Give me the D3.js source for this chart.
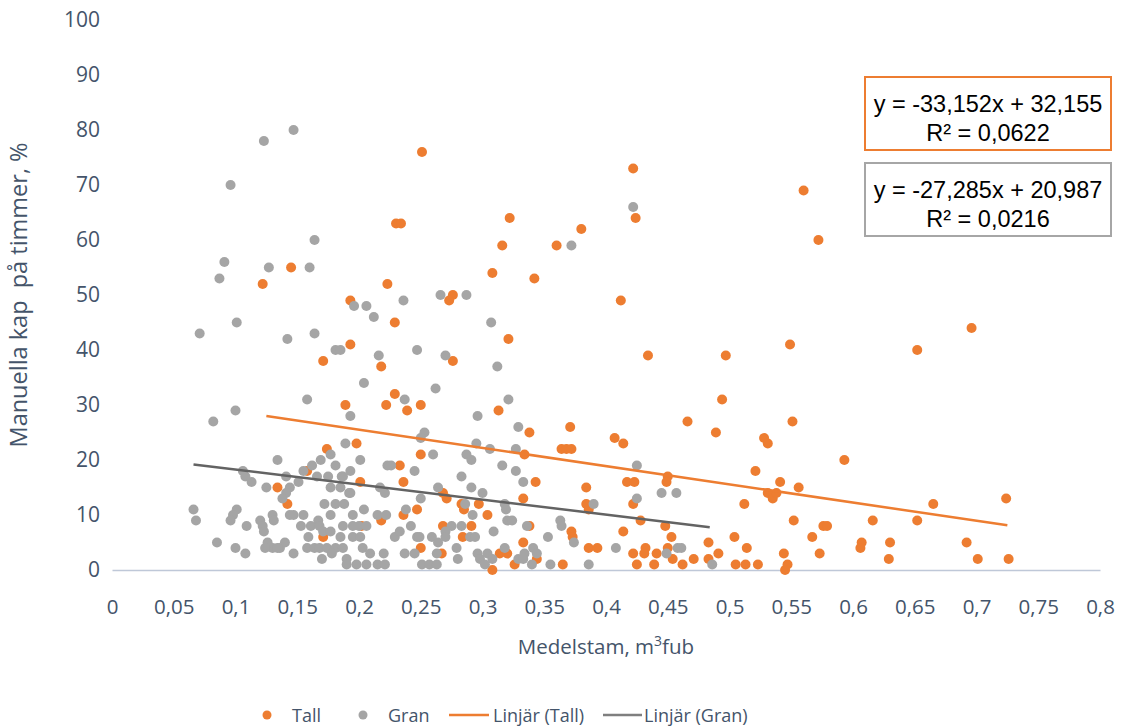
<!DOCTYPE html>
<html>
<head>
<meta charset="utf-8">
<script src="https://cdn.jsdelivr.net/npm/d3@7"></script>
<style>
  html, body { margin: 0; padding: 0; background: #fff; }
  svg text { font-family: "Open Sans", "DejaVu Sans", sans-serif; fill: #44546A; }
</style>
</head>
<body>
<svg id="chart" width="1121" height="728"></svg>
<script>
// Tall (pine): medelstam (m3fub) and share of manual bucking (%)
const tallX = [0.251,0.422,0.560,0.572,0.424,0.322,0.230,0.234,0.380,0.316,0.360,0.145,0.308,0.342,0.122,0.223,0.193,0.412,0.276,0.273,
  0.229,0.321,0.193,0.549,0.652,0.696,0.434,0.497,0.171,0.276,0.218,0.229,0.189,0.222,0.250,0.239,0.313,0.494,0.338,0.371,
  0.364,0.368,0.372,0.334,0.407,0.414,0.198,0.250,0.233,0.201,0.236,0.174,0.158,0.134,0.142,0.171,0.268,0.271,0.247,0.283,
  0.285,0.297,0.304,0.218,0.236,0.268,0.291,0.284,0.250,0.267,0.314,0.320,0.308,0.343,0.384,0.417,0.423,0.450,0.449,0.333,
  0.384,0.386,0.422,0.338,0.428,0.448,0.372,0.373,0.414,0.333,0.453,0.344,0.386,0.393,0.422,0.432,0.431,0.441,0.450,0.454,
  0.326,0.365,0.425,0.439,0.466,0.551,0.489,0.528,0.531,0.593,0.521,0.541,0.556,0.531,0.535,0.538,0.512,0.552,0.576,0.579,
  0.504,0.567,0.483,0.514,0.491,0.544,0.573,0.471,0.483,0.462,0.505,0.513,0.523,0.547,0.545,0.724,0.665,0.616,0.652,0.607,
  0.606,0.630,0.692,0.629,0.701,0.726,0.202];
const tallY = [76,73,69,60,64,64,63,63,62,59,59,55,54,53,52,52,49,49,50,49,
  45,42,41,41,40,44,39,39,38,38,37,32,30,30,30,29,29,31,25,26,
  22,22,22,21,24,23,23,21,19,16,16,22,18,15,12,6,14,13,11,12,
  11,12,10,9,10,8,8,6,4,3,3,3,0,16,15,16,16,17,16,13,
  12,11,12,8,9,8,7,6,7,5,6,2,4,4,3,4,3,3,4,2,
  1,1,1,1,27,27,25,24,23,20,18,16,15,14,13,14,12,9,8,8,
  6,6,5,4,3,3,3,2,2,1,1,1,1,1,0,13,12,9,9,5,
  4,5,5,2,2,2,8];

// Gran (spruce)
const granX = [0.147,0.123,0.096,0.422,0.164,0.372,0.091,0.127,0.160,0.087,0.101,0.071,0.142,0.164,0.181,0.196,0.206,0.236,0.266,0.287,
  0.212,0.307,0.185,0.216,0.247,0.270,0.312,0.204,0.262,0.158,0.100,0.082,0.189,0.177,0.169,0.134,0.181,0.162,0.155,0.106,
  0.108,0.166,0.175,0.186,0.141,0.113,0.151,0.125,0.144,0.177,0.185,0.141,0.192,0.138,0.172,0.181,0.188,0.066,0.101,0.098,
  0.096,0.130,0.131,0.144,0.147,0.155,0.177,0.068,0.120,0.109,0.122,0.123,0.153,0.161,0.167,0.168,0.187,0.159,0.171,0.177,
  0.185,0.085,0.126,0.130,0.136,0.140,0.100,0.108,0.124,0.134,0.158,0.164,0.168,0.174,0.181,0.187,0.147,0.170,0.178,0.190,
  0.237,0.193,0.296,0.321,0.253,0.250,0.260,0.295,0.287,0.291,0.306,0.201,0.316,0.223,0.226,0.193,0.245,0.187,0.283,0.217,
  0.221,0.264,0.193,0.291,0.300,0.250,0.286,0.204,0.238,0.195,0.215,0.222,0.292,0.320,0.195,0.200,0.206,0.242,0.275,0.283,
  0.195,0.201,0.229,0.233,0.247,0.249,0.259,0.270,0.270,0.290,0.294,0.309,0.203,0.209,0.220,0.237,0.245,0.264,0.263,0.279,
  0.296,0.304,0.308,0.190,0.198,0.206,0.215,0.221,0.251,0.257,0.263,0.280,0.298,0.302,0.329,0.327,0.327,0.333,0.318,0.319,
  0.324,0.336,0.363,0.364,0.353,0.374,0.425,0.425,0.390,0.445,0.457,0.318,0.334,0.341,0.344,0.329,0.333,0.340,0.355,0.386,
  0.408,0.449,0.458,0.461,0.486];
const granY = [80,78,70,66,60,59,56,55,55,53,45,43,42,43,40,48,48,49,50,50,
  46,45,40,39,40,39,37,34,33,31,29,27,23,21,20,20,19,19,18,18,
  17,17,17,17,17,16,16,15,15,15,15,14,14,13,12,12,12,11,11,10,
  9,10,9,10,10,10,10,9,9,8,8,7,8,8,9,8,8,6,7,7,
  6,5,5,4,4,5,4,3,4,4,4,4,4,4,4,4,3,2,3,2,
  31,28,28,31,25,24,21,23,21,20,22,20,19,19,19,18,18,17,17,15,
  14,15,14,15,14,13,12,11,11,10,10,10,10,9,8,8,8,8,8,8,
  6,6,6,7,6,6,6,7,6,6,6,7,4,3,3,3,3,5,3,4,
  3,3,2,1,1,1,1,1,1,1,1,2,2,1,26,22,18,16,12,11,
  9,8,9,8,6,5,19,13,12,14,14,4,3,4,3,2,2,1,1,1,
  4,3,4,4,1];

// Linear trend coefficients (slope, intercept) and the x-range they span
const trendTall = { slope: -33.152, intercept: 32.155, xFrom: 0.125, xTo: 0.725 };
const trendGran = { slope: -27.285, intercept: 20.987, xFrom: 0.066, xTo: 0.484 };

const xTicks = [0,0.05,0.1,0.15,0.2,0.25,0.3,0.35,0.4,0.45,0.5,0.55,0.6,0.65,0.7,0.75,0.8];
const yTicks = [0,10,20,30,40,50,60,70,80,90,100];

const seriesNames = ["Tall", "Gran", "Linjär (Tall)", "Linjär (Gran)"];
const eqTall = ["y = -33,152x + 32,155", "R² = 0,0622"];
const eqGran = ["y = -27,285x + 20,987", "R² = 0,0216"];

const ORANGE = "#ED7D31", GRAY = "#A5A5A5", TREND_GRAY = "#636363";

const svg = d3.select("#chart");
const x = d3.scaleLinear().domain([0, 0.8]).range([112, 1100]);
const y = d3.scaleLinear().domain([0, 100]).range([570, 20]);
const fmt = d => String(d).replace(".", ",");

// x axis
const gx = svg.append("g").attr("transform", `translate(0,${y(0)})`)
  .call(d3.axisBottom(x).tickValues(xTicks).tickSize(0).tickPadding(29).tickFormat(fmt));
gx.select(".domain").attr("stroke", "#BFC8D8").attr("stroke-width", 1.3);
gx.selectAll("text").style("font-size", "20.5px").attr("fill", "#44546A");

// y axis (labels only)
const gy = svg.append("g").attr("transform", `translate(${x(0)},0)`)
  .call(d3.axisLeft(y).tickValues(yTicks).tickSize(0).tickPadding(12).tickFormat(fmt));
gy.select(".domain").remove();
gy.selectAll("text").style("font-size", "21px").attr("fill", "#44546A");

// axis titles
svg.append("text").attr("x", (x(0) + x(0.8)) / 2).attr("y", 654)
  .attr("text-anchor", "middle").style("font-size", "20.5px")
  .html('Medelstam, m<tspan dy="-8" style="font-size:14px">3</tspan><tspan dy="8">fub</tspan>');
svg.append("text").attr("transform", `translate(27,${(y(0) + y(100)) / 2}) rotate(-90)`)
  .attr("text-anchor", "middle").style("font-size", "23.5px").style("white-space", "pre")
  .text("Manuella kap  på timmer, %");

// scatter points
const tall = tallX.map((v, i) => ({ x: v, y: tallY[i] }));
const gran = granX.map((v, i) => ({ x: v, y: granY[i] }));
svg.append("g").selectAll("circle").data(tall).join("circle")
  .attr("cx", d => x(d.x)).attr("cy", d => y(d.y)).attr("r", 5).attr("fill", ORANGE);
svg.append("g").selectAll("circle").data(gran).join("circle")
  .attr("cx", d => x(d.x)).attr("cy", d => y(d.y)).attr("r", 5).attr("fill", GRAY);

// trend lines
function trendLine(t, color) {
  const pts = [t.xFrom, t.xTo].map(v => [x(v), y(t.slope * v + t.intercept)]);
  svg.append("path").attr("d", d3.line()(pts)).attr("stroke", color)
    .attr("stroke-width", 2.5).attr("fill", "none");
}
trendLine(trendTall, ORANGE);
trendLine(trendGran, TREND_GRAY);

// equation boxes
function eqBox(lines, top, color) {
  const g = svg.append("g");
  g.append("rect").attr("x", 865).attr("y", top).attr("width", 246).attr("height", 73)
    .attr("fill", "#fff").attr("stroke", color).attr("stroke-width", 2);
  lines.forEach((t, i) => g.append("text").attr("x", 988).attr("y", top + 35 + i * 28.5)
    .attr("text-anchor", "middle")
    .style("font-family", '"Liberation Sans", Arial, sans-serif')
    .style("font-size", "23.5px").style("fill", "#000").text(t));
}
eqBox(eqTall, 77, ORANGE);
eqBox(eqGran, 163, "#A6A6A6");

// legend
const lg = svg.append("g");
const ly = 715;
const lfs = "18px";
lg.append("circle").attr("cx", 267).attr("cy", ly).attr("r", 4.5).attr("fill", ORANGE);
lg.append("text").attr("x", 292).attr("y", ly + 7).style("font-size", lfs).text(seriesNames[0]);
lg.append("circle").attr("cx", 363).attr("cy", ly).attr("r", 4.5).attr("fill", GRAY);
lg.append("text").attr("x", 388).attr("y", ly + 7).style("font-size", lfs).text(seriesNames[1]);
lg.append("line").attr("x1", 449).attr("x2", 489).attr("y1", ly).attr("y2", ly).attr("stroke", ORANGE).attr("stroke-width", 2.5);
lg.append("text").attr("x", 493).attr("y", ly + 7).style("font-size", lfs).text(seriesNames[2]);
lg.append("line").attr("x1", 603).attr("x2", 642).attr("y1", ly).attr("y2", ly).attr("stroke", "#7F7F7F").attr("stroke-width", 2.5);
lg.append("text").attr("x", 644).attr("y", ly + 7).style("font-size", lfs).text(seriesNames[3]);
</script>
</body>
</html>
